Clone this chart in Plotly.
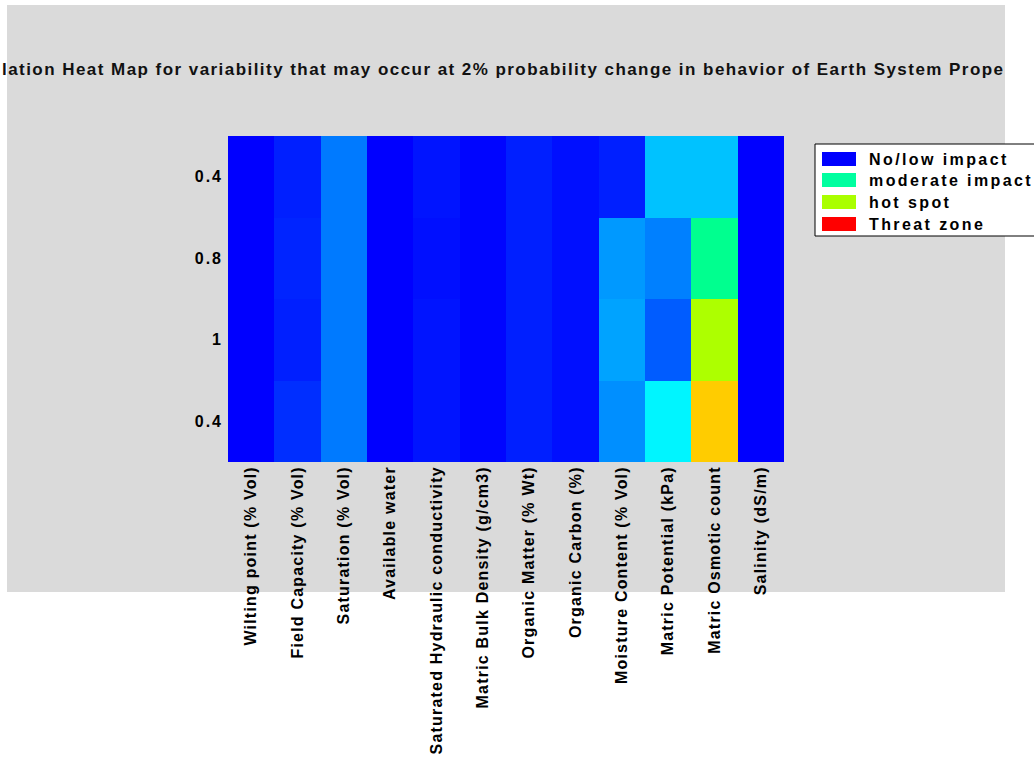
import plotly.graph_objects as go

# Properties along the x axis
properties = [
    "Wilting point (% Vol)",
    "Field Capacity (% Vol)",
    "Saturation (% Vol)",
    "Available water",
    "Saturated Hydraulic conductivity",
    "Matric Bulk Density (g/cm3)",
    "Organic Matter (% Wt)",
    "Organic Carbon (%)",
    "Moisture Content (% Vol)",
    "Matric Potential (kPa)",
    "Matric Osmotic count",
    "Salinity (dS/m)",
]

# Row labels, top to bottom
row_labels = ["0.4", "0.8", "1", "0.4"]

# Impact level per cell (0 = no impact, 1 = threat)
row_1 = [0.0, 0.03, 0.12, 0.0, 0.02, 0.005, 0.03, 0.015, 0.03, 0.19, 0.19, 0.0]
row_2 = [0.0, 0.035, 0.12, 0.0, 0.015, 0.005, 0.03, 0.015, 0.15, 0.125, 0.36, 0.0]
row_3 = [0.0, 0.03, 0.12, 0.0, 0.02, 0.005, 0.03, 0.015, 0.16, 0.09, 0.67, 0.0]
row_4 = [0.0, 0.045, 0.12, 0.0, 0.02, 0.005, 0.03, 0.015, 0.14, 0.24, 0.80, 0.0]

legend_labels = ["No/low impact", "moderate impact", "hot spot", "Threat zone"]
legend_colors = ["rgb(0,0,255)", "rgb(0,255,160)", "rgb(170,255,0)", "rgb(255,0,0)"]

title_text = ("lation Heat Map for variability that may occur at 2% probability "
              "change in behavior of Earth System Prope")

# Hue sweep blue -> cyan -> green -> yellow -> red
hue_scale = [
    [0.0, "rgb(0,0,255)"],
    [0.25, "rgb(0,255,255)"],
    [0.5, "rgb(0,255,0)"],
    [0.75, "rgb(255,255,0)"],
    [1.0, "rgb(255,0,0)"],
]

W, H = 1034, 761
L, R, T, B = 228, 784, 136, 462  # plot area in pixels

def px_x(x):
    return (x - L) / (R - L)

def px_y(y):
    return (B - y) / (B - T)

font_name = "Liberation Sans, Arial, sans-serif"

fig = go.Figure(
    go.Heatmap(
        z=[row_1, row_2, row_3, row_4],
        x=list(range(len(properties))),
        y=list(range(len(row_labels))),
        colorscale=hue_scale,
        zmin=0,
        zmax=1,
        showscale=False,
        hoverinfo="skip",
    )
)

shapes = [
    # grey figure panel
    dict(type="rect", xref="paper", yref="paper", layer="below",
         x0=px_x(7), x1=px_x(1005), y0=px_y(592), y1=px_y(5),
         fillcolor="#dadada", line=dict(width=0)),
    # legend box
    dict(type="rect", xref="paper", yref="paper", layer="above",
         x0=px_x(815), x1=px_x(1080), y0=px_y(236), y1=px_y(144),
         fillcolor="white", line=dict(color="black", width=1)),
]
annotations = [
    dict(text="<b>" + title_text + "</b>", xref="paper", yref="paper",
         x=px_x(0), y=px_y(69), xanchor="left", yanchor="middle",
         showarrow=False, name="title",
         font=dict(family=font_name, size=17, color="#111")),
]

row_centers = [159, 180, 202, 224]
for label, color, yc in zip(legend_labels, legend_colors, row_centers):
    shapes.append(dict(type="rect", xref="paper", yref="paper", layer="above",
                       x0=px_x(822), x1=px_x(856), y0=px_y(yc + 7), y1=px_y(yc - 7),
                       fillcolor=color, line=dict(width=0)))
    annotations.append(dict(text="<b>" + label + "</b>", xref="paper", yref="paper",
                            x=px_x(867), y=px_y(yc), xanchor="left", yanchor="middle",
                            showarrow=False, name="key",
                            font=dict(family=font_name, size=16, color="black")))

fig.update_layout(
    width=W,
    height=H,
    margin=dict(l=L, r=W - R, t=T, b=H - B, pad=0),
    paper_bgcolor="white",
    plot_bgcolor="#dadada",
    shapes=shapes,
    annotations=annotations,
    showlegend=False,
)

fig.update_xaxes(
    tickmode="array",
    tickvals=list(range(len(properties))),
    ticktext=["<b>" + p + "</b>" for p in properties],
    tickangle=-90,
    ticks="",
    showgrid=False,
    zeroline=False,
    showline=False,
    tickfont=dict(family=font_name, size=16, color="black"),
    range=[-0.5, len(properties) - 0.5],
)
fig.update_yaxes(
    tickmode="array",
    tickvals=list(range(len(row_labels))),
    ticktext=["<b>" + r + "</b>" for r in row_labels],
    ticks="",
    showgrid=False,
    zeroline=False,
    showline=False,
    tickfont=dict(family=font_name, size=16, color="black"),
    range=[len(row_labels) - 0.5, -0.5],
    ticklabelstandoff=4,
)

# Widen the character spacing of the labels; left-aligned annotation
# texts are re-anchored at their left edge so they grow to the right.
spacing_js = """
(function() {
  var gd = document.getElementById('{plot_id}');
  function spread() {
    var ann = gd.querySelectorAll('.annotation-text');
    ann.forEach(function(t, i) {
      if (t.getAttribute('data-spread')) { return; }
      var box = t.getBBox();
      t.style.letterSpacing = (i === 0) ? '1.45px' : '2.4px';
      t.setAttribute('text-anchor', 'start');
      t.setAttribute('x', box.x);
      t.setAttribute('data-spread', '1');
    });
    gd.querySelectorAll('.xtick text').forEach(function(t) {
      t.style.letterSpacing = '1.2px';
    });
    gd.querySelectorAll('.ytick text').forEach(function(t) {
      t.style.letterSpacing = '2px';
    });
  }
  spread();
  if (gd.on) { gd.on('plotly_afterplot', spread); }
})();
"""

fig.write_html("out.html", post_script=spacing_js)
